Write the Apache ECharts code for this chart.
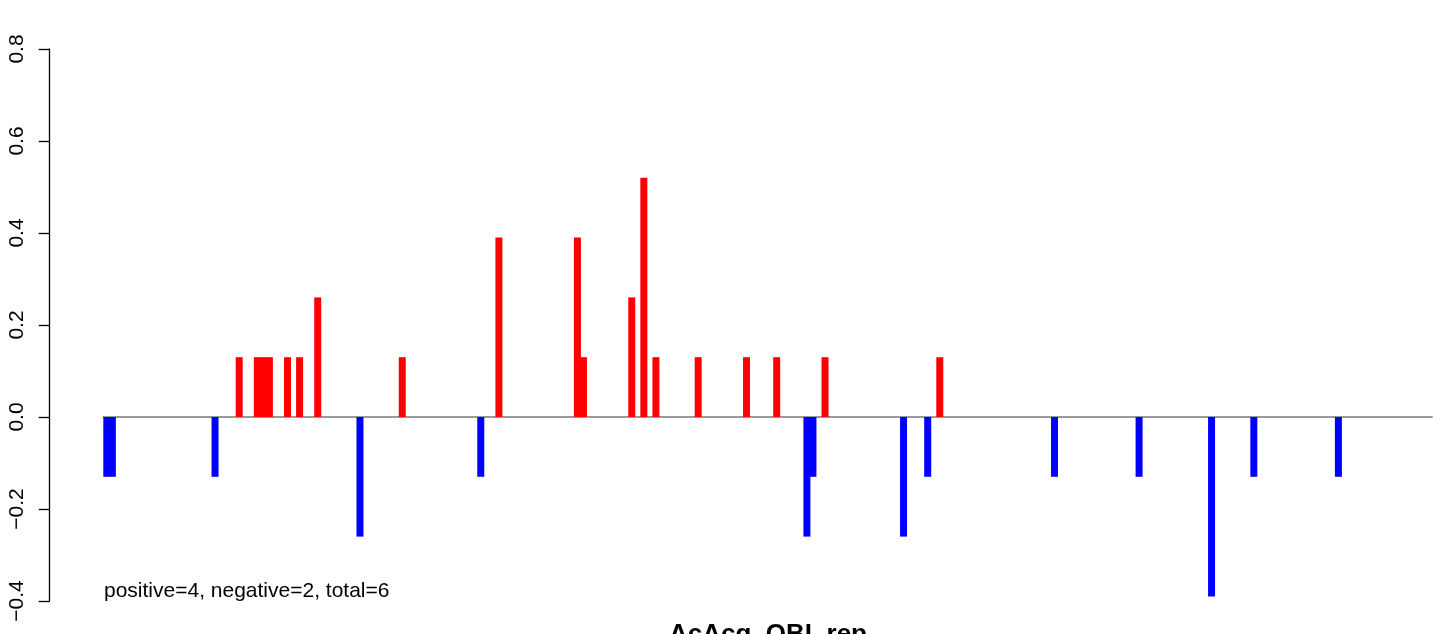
<!DOCTYPE html>
<html>
<head>
<meta charset="utf-8">
<script src="https://cdn.jsdelivr.net/npm/echarts@6/dist/echarts.min.js"></script>
<style>
html,body{margin:0;padding:0;background:#fff;}
#chart{width:1452px;height:634px;}
</style>
</head>
<body>
<div id="chart"></div>
<script>
// number of positions along the x axis
const slotCount = 220;
// positions (0-based) of non-zero bars
const barIndex = [0, 1, 18, 22, 25, 26, 27, 30, 32, 35, 42, 49, 62, 65, 78, 79, 87, 89, 91, 98, 106, 111, 116, 117, 119, 132, 136, 138, 157, 171, 183, 190, 204];
// bar values at those positions
const barValue = [-0.13, -0.13, -0.13, 0.13, 0.13, 0.13, 0.13, 0.13, 0.13, 0.26, -0.26, 0.13, -0.13, 0.39, 0.39, 0.13, 0.26, 0.52, 0.13, 0.13, 0.13, 0.13, -0.26, -0.13, 0.13, -0.26, -0.13, 0.13, -0.13, -0.13, -0.39, -0.13, -0.13];
const yTicks = [-0.4, -0.2, 0.0, 0.2, 0.4, 0.6, 0.8];
const xTitle = 'AcAcq_OBI_rep';
const statText = 'positive=4, negative=2, total=6';

const categories = [];
const seriesData = [];
for (let i = 0; i < slotCount; i++) { categories.push(String(i + 1)); seriesData.push('-'); }
barIndex.forEach((p, k) => { seriesData[p] = barValue[k]; });

const FONT = '"Liberation Sans", Arial, Helvetica, sans-serif';
const chart = echarts.init(document.getElementById('chart'), null, {renderer: 'canvas'});
chart.setOption({
  animation: false,
  backgroundColor: '#ffffff',
  grid: {left: 103.3, right: 20, top: 49, bottom: 33},
  xAxis: {
    type: 'category',
    data: categories,
    boundaryGap: true,
    axisLine: {show: true, onZero: true, lineStyle: {color: '#9a9a9a', width: 1.8}},
    axisTick: {show: false},
    axisLabel: {show: false},
    splitLine: {show: false}
  },
  yAxis: {
    type: 'value',
    min: yTicks[0],
    max: yTicks[yTicks.length - 1],
    interval: 0.2,
    offset: 53.6,
    axisLine: {show: true, lineStyle: {color: '#000', width: 1.3}},
    axisTick: {show: true, length: 11, lineStyle: {color: '#000', width: 1.3}},
    splitLine: {show: false},
    axisLabel: {
      rotate: 90,
      margin: 22,
      color: '#000',
      fontSize: 21,
      fontFamily: FONT,
      formatter: v => v.toFixed(1).replace('-', '\u2212')
    }
  },
  series: [{
    type: 'bar',
    data: seriesData,
    barWidth: 7,
    itemStyle: {
      color: p => (p.value > 0 ? '#ff0000' : '#0000ff')
    }
  }],
  graphic: [
    {type: 'text', left: 104, top: 581, style: {text: statText, font: '21px ' + FONT, fill: '#000'}},
    {type: 'text', x: 768, y: 635, style: {text: xTitle, font: 'bold 26px ' + FONT, fill: '#000', align: 'center', verticalAlign: 'middle'}}
  ]
});
</script>
</body>
</html>
